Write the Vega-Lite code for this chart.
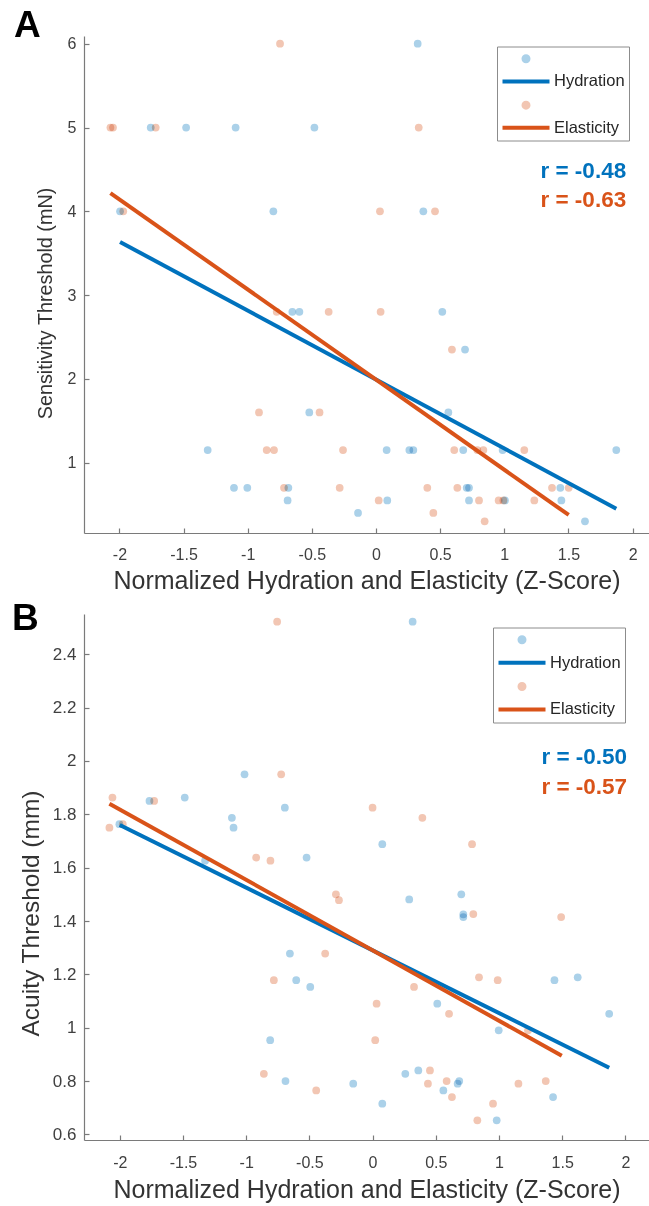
{
  "$schema": "https://vega.github.io/schema/vega-lite/v6.json",
  "padding": {"left": 12, "top": 6, "right": 0, "bottom": 0},
  "autosize": {"type": "pad"},
  "background": "white",
  "config": {
    "font": "Liberation Sans",
    "view": {"stroke": null},
    "axis": {
      "grid": false,
      "domainColor": "#7a7a7a",
      "domainWidth": 1.2,
      "tickColor": "#7a7a7a",
      "tickWidth": 1.2,
      "tickSize": -5,
      "labelColor": "#404040",
      "titleColor": "#333333",
      "labelFont": "Liberation Sans",
      "titleFont": "Liberation Sans",
      "titleFontWeight": "normal"
    }
  },
  "spacing": 81,
  "bounds": "flush",
  "resolve": {"scale": {"color": "independent"}, "legend": {"color": "independent"}},
  "datasets": {
    "ptsA": [
      {"key": "hp", "x": 0.325, "y": 6}, {"key": "hp", "x": -1.756, "y": 5}, {"key": "hp", "x": -1.48, "y": 5}, {"key": "hp", "x": -1.094, "y": 5}, {"key": "hp", "x": -0.48, "y": 5},
      {"key": "hp", "x": -1.995, "y": 4}, {"key": "hp", "x": -0.8, "y": 4}, {"key": "hp", "x": 0.369, "y": 4},
      {"key": "hp", "x": -0.652, "y": 2.8}, {"key": "hp", "x": -0.597, "y": 2.8}, {"key": "hp", "x": 0.517, "y": 2.8}, {"key": "hp", "x": 0.694, "y": 2.35},
      {"key": "hp", "x": -0.52, "y": 1.6}, {"key": "hp", "x": 0.564, "y": 1.6},
      {"key": "hp", "x": -1.312, "y": 1.15}, {"key": "hp", "x": 0.083, "y": 1.15}, {"key": "hp", "x": 0.26, "y": 1.15}, {"key": "hp", "x": 0.291, "y": 1.15}, {"key": "hp", "x": 0.68, "y": 1.15}, {"key": "hp", "x": 0.987, "y": 1.15}, {"key": "hp", "x": 1.873, "y": 1.15},
      {"key": "hp", "x": -1.107, "y": 0.7}, {"key": "hp", "x": -1.003, "y": 0.7}, {"key": "hp", "x": -0.683, "y": 0.7}, {"key": "hp", "x": 0.707, "y": 0.7}, {"key": "hp", "x": 0.725, "y": 0.7}, {"key": "hp", "x": 1.437, "y": 0.7},
      {"key": "hp", "x": -0.689, "y": 0.55}, {"key": "hp", "x": 0.088, "y": 0.55}, {"key": "hp", "x": 0.725, "y": 0.55}, {"key": "hp", "x": 1.005, "y": 0.55}, {"key": "hp", "x": 1.445, "y": 0.55},
      {"key": "hp", "x": -0.14, "y": 0.4}, {"key": "hp", "x": 1.629, "y": 0.3},
      {"key": "ep", "x": -0.748, "y": 6}, {"key": "ep", "x": -2.07, "y": 5}, {"key": "ep", "x": -2.05, "y": 5}, {"key": "ep", "x": -1.717, "y": 5}, {"key": "ep", "x": 0.333, "y": 5},
      {"key": "ep", "x": -1.97, "y": 4}, {"key": "ep", "x": 0.031, "y": 4}, {"key": "ep", "x": 0.46, "y": 4},
      {"key": "ep", "x": -0.774, "y": 2.8}, {"key": "ep", "x": -0.369, "y": 2.8}, {"key": "ep", "x": 0.036, "y": 2.8}, {"key": "ep", "x": 0.592, "y": 2.35},
      {"key": "ep", "x": -0.912, "y": 1.6}, {"key": "ep", "x": -0.44, "y": 1.6},
      {"key": "ep", "x": -0.852, "y": 1.15}, {"key": "ep", "x": -0.795, "y": 1.15}, {"key": "ep", "x": -0.257, "y": 1.15}, {"key": "ep", "x": 0.61, "y": 1.15}, {"key": "ep", "x": 0.79, "y": 1.15}, {"key": "ep", "x": 0.837, "y": 1.15}, {"key": "ep", "x": 1.156, "y": 1.15},
      {"key": "ep", "x": -0.717, "y": 0.7}, {"key": "ep", "x": -0.283, "y": 0.7}, {"key": "ep", "x": 0.4, "y": 0.7}, {"key": "ep", "x": 0.634, "y": 0.7}, {"key": "ep", "x": 1.372, "y": 0.7}, {"key": "ep", "x": 1.502, "y": 0.7},
      {"key": "ep", "x": 0.021, "y": 0.55}, {"key": "ep", "x": 0.803, "y": 0.55}, {"key": "ep", "x": 0.956, "y": 0.55}, {"key": "ep", "x": 0.993, "y": 0.55}, {"key": "ep", "x": 1.234, "y": 0.55},
      {"key": "ep", "x": 0.447, "y": 0.4}, {"key": "ep", "x": 0.847, "y": 0.3}
    ],
    "lineA": [
      {"key": "Hydration", "x": -1.995, "y": 3.634}, {"key": "Hydration", "x": 1.873, "y": 0.451},
      {"key": "Elasticity", "x": -2.07, "y": 4.218}, {"key": "Elasticity", "x": 1.502, "y": 0.376}
    ],
    "ptsB": [
      {"key": "hp", "x": 0.317, "y": 2.522}, {"key": "hp", "x": -1.013, "y": 1.95}, {"key": "hp", "x": -1.765, "y": 1.85}, {"key": "hp", "x": -1.486, "y": 1.863}, {"key": "hp", "x": -0.694, "y": 1.825},
      {"key": "hp", "x": -1.113, "y": 1.787}, {"key": "hp", "x": -1.1, "y": 1.75}, {"key": "hp", "x": -2.003, "y": 1.763}, {"key": "hp", "x": -0.522, "y": 1.638}, {"key": "hp", "x": -1.325, "y": 1.626},
      {"key": "hp", "x": 0.077, "y": 1.688}, {"key": "hp", "x": 0.29, "y": 1.481}, {"key": "hp", "x": 0.702, "y": 1.5}, {"key": "hp", "x": 0.718, "y": 1.425}, {"key": "hp", "x": 0.718, "y": 1.415},
      {"key": "hp", "x": -0.654, "y": 1.278}, {"key": "hp", "x": -0.604, "y": 1.178}, {"key": "hp", "x": -0.493, "y": 1.153}, {"key": "hp", "x": -0.81, "y": 0.953}, {"key": "hp", "x": -0.689, "y": 0.8},
      {"key": "hp", "x": -0.153, "y": 0.79}, {"key": "hp", "x": 1.439, "y": 1.178}, {"key": "hp", "x": 1.623, "y": 1.189}, {"key": "hp", "x": 0.512, "y": 1.09}, {"key": "hp", "x": 1.872, "y": 1.052},
      {"key": "hp", "x": 0.998, "y": 0.99}, {"key": "hp", "x": 0.259, "y": 0.827}, {"key": "hp", "x": 0.362, "y": 0.84}, {"key": "hp", "x": 0.686, "y": 0.8}, {"key": "hp", "x": 0.673, "y": 0.79},
      {"key": "hp", "x": 0.56, "y": 0.765}, {"key": "hp", "x": 1.428, "y": 0.74}, {"key": "hp", "x": 0.077, "y": 0.715}, {"key": "hp", "x": 0.982, "y": 0.653},
      {"key": "ep", "x": -0.755, "y": 2.522}, {"key": "ep", "x": -0.723, "y": 1.95}, {"key": "ep", "x": -2.058, "y": 1.863}, {"key": "ep", "x": -1.728, "y": 1.85}, {"key": "ep", "x": 0.0, "y": 1.825},
      {"key": "ep", "x": -2.082, "y": 1.75}, {"key": "ep", "x": -1.976, "y": 1.763}, {"key": "ep", "x": -0.921, "y": 1.638}, {"key": "ep", "x": -0.808, "y": 1.626}, {"key": "ep", "x": -0.29, "y": 1.5},
      {"key": "ep", "x": -0.266, "y": 1.478}, {"key": "ep", "x": 0.394, "y": 1.787}, {"key": "ep", "x": 0.787, "y": 1.688}, {"key": "ep", "x": -0.375, "y": 1.278}, {"key": "ep", "x": -0.781, "y": 1.178},
      {"key": "ep", "x": -0.86, "y": 0.827}, {"key": "ep", "x": -0.446, "y": 0.765}, {"key": "ep", "x": 0.797, "y": 1.426}, {"key": "ep", "x": 1.492, "y": 1.415}, {"key": "ep", "x": 0.842, "y": 1.189},
      {"key": "ep", "x": 0.99, "y": 1.178}, {"key": "ep", "x": 0.328, "y": 1.153}, {"key": "ep", "x": 0.032, "y": 1.09}, {"key": "ep", "x": 0.605, "y": 1.052}, {"key": "ep", "x": 1.23, "y": 0.99},
      {"key": "ep", "x": 0.021, "y": 0.953}, {"key": "ep", "x": 0.454, "y": 0.84}, {"key": "ep", "x": 0.438, "y": 0.79}, {"key": "ep", "x": 0.586, "y": 0.8}, {"key": "ep", "x": 0.628, "y": 0.74},
      {"key": "ep", "x": 1.154, "y": 0.79}, {"key": "ep", "x": 1.37, "y": 0.8}, {"key": "ep", "x": 0.953, "y": 0.715}, {"key": "ep", "x": 0.829, "y": 0.653}
    ],
    "lineB": [
      {"key": "Hydration", "x": -2.0, "y": 1.76}, {"key": "Hydration", "x": 1.872, "y": 0.85},
      {"key": "Elasticity", "x": -2.082, "y": 1.84}, {"key": "Elasticity", "x": 1.497, "y": 0.895}
    ],
    "rA": [{"key": "Hydration", "label": "r = -0.48"}, {"key": "Elasticity", "label": "r = -0.63"}],
    "rB": [{"key": "Hydration", "label": "r = -0.50"}, {"key": "Elasticity", "label": "r = -0.57"}]
  },
  "vconcat": [
    {
      "width": 565,
      "height": 497,
      "title": {"text": "A", "anchor": "start", "frame": "group", "orient": "top", "offset": 0, "dx": -70, "dy": 38, "baseline": "alphabetic", "fontSize": 37, "fontWeight": "bold", "color": "#000000", "font": "Liberation Sans"},
      "layer": [
        {
          "data": {"name": "ptsA"},
          "mark": {"type": "point", "filled": true, "size": 60, "opacity": 1, "blend": "multiply"},
          "encoding": {
            "x": {"field": "x", "type": "quantitative", "scale": {"domain": [-2.276, 2.128], "nice": false, "zero": false},
              "axis": {"values": [-2, -1.5, -1, -0.5, 0, 0.5, 1, 1.5, 2], "labelExpr": "'' + datum.value", "labelFontSize": 16, "labelPadding": 18, "title": "Normalized Hydration and Elasticity (Z-Score)", "titleFontSize": 25, "titlePadding": 6}},
            "y": {"field": "y", "type": "quantitative", "scale": {"domain": [0.161, 6.092], "nice": false, "zero": false},
              "axis": {"values": [1, 2, 3, 4, 5, 6], "labelExpr": "'' + datum.value", "labelFontSize": 16, "labelPadding": 13, "title": "Sensitivity Threshold (mN)", "titleFontSize": 19.8, "titlePadding": 12, "titleY": 267}},
            "color": {"field": "key", "type": "nominal",
              "scale": {"domain": ["hp", "Hydration", "ep", "Elasticity"], "range": ["#abd1e9", "#0072BD", "#f2c6b3", "#D95319"]},
              "legend": {
                "orient": "none", "legendX": 413, "legendY": 10.5, "title": null,
                "strokeColor": "#8c8c8c", "fillColor": "white", "padding": 4,
                "labelFont": "Liberation Sans", "labelFontSize": 16.5, "labelColor": "#262626",
                "labelExpr": "datum.value == 'hp' || datum.value == 'ep' ? '' : datum.label",
                "symbolType": {"expr": "datum.value == 'hp' || datum.value == 'ep' ? 'circle' : 'M-9.4,0L9.4,0'"},
                "symbolSize": 25, "symbolStrokeWidth": 4, "symbolOpacity": 1,
                "symbolOffset": 16.75, "rowPadding": 3.7, "labelOffset": 19.75
              }}
          }
        },
        {
          "data": {"name": "lineA"},
          "mark": {"type": "line", "strokeWidth": 4},
          "encoding": {
            "x": {"field": "x", "type": "quantitative"},
            "y": {"field": "y", "type": "quantitative"},
            "color": {"field": "key", "type": "nominal"},
            "order": {"field": "x", "type": "quantitative"}
          }
        },
        {
          "data": {"name": "rA"},
          "transform": [{"filter": "datum.key == 'Hydration'"}],
          "mark": {"type": "text", "align": "right", "baseline": "alphabetic", "fontSize": 22.5, "fontWeight": "bold"},
          "encoding": {
            "x": {"datum": 1.95, "type": "quantitative"},
            "y": {"datum": 4.394, "type": "quantitative"},
            "text": {"field": "label"},
            "color": {"field": "key", "type": "nominal", "legend": null}
          }
        },
        {
          "data": {"name": "rA"},
          "transform": [{"filter": "datum.key == 'Elasticity'"}],
          "mark": {"type": "text", "align": "right", "baseline": "alphabetic", "fontSize": 22.5, "fontWeight": "bold"},
          "encoding": {
            "x": {"datum": 1.95, "type": "quantitative"},
            "y": {"datum": 4.05, "type": "quantitative"},
            "text": {"field": "label"},
            "color": {"field": "key", "type": "nominal", "legend": null}
          }
        }
      ]
    },
    {
      "width": 565,
      "height": 526,
      "title": {"text": "B", "anchor": "start", "frame": "group", "orient": "top", "offset": 0, "dx": -72, "dy": 53, "baseline": "alphabetic", "fontSize": 37, "fontWeight": "bold", "color": "#000000", "font": "Liberation Sans"},
      "layer": [
        {
          "data": {"name": "ptsB"},
          "mark": {"type": "point", "filled": true, "size": 60, "opacity": 1, "blend": "multiply"},
          "encoding": {
            "x": {"field": "x", "type": "quantitative", "scale": {"domain": [-2.283, 2.187], "nice": false, "zero": false},
              "axis": {"values": [-2, -1.5, -1, -0.5, 0, 0.5, 1, 1.5, 2], "labelExpr": "'' + datum.value", "labelFontSize": 16, "labelPadding": 19.5, "title": "Normalized Hydration and Elasticity (Z-Score)", "titleFontSize": 25, "titlePadding": 7}},
            "y": {"field": "y", "type": "quantitative", "scale": {"domain": [0.579, 2.551], "nice": false, "zero": false},
              "axis": {"values": [0.6, 0.8, 1, 1.2, 1.4, 1.6, 1.8, 2, 2.2, 2.4], "labelExpr": "'' + datum.value", "labelFontSize": 17, "labelPadding": 13, "title": "Acuity Threshold (mm)", "titleFontSize": 24.5, "titlePadding": 9, "titleY": 299}},
            "color": {"field": "key", "type": "nominal",
              "scale": {"domain": ["hp", "Hydration", "ep", "Elasticity"], "range": ["#abd1e9", "#0072BD", "#f2c6b3", "#D95319"]},
              "legend": {
                "orient": "none", "legendX": 409, "legendY": 13.5, "title": null,
                "strokeColor": "#8c8c8c", "fillColor": "white", "padding": 4,
                "labelFont": "Liberation Sans", "labelFontSize": 16.5, "labelColor": "#262626",
                "labelExpr": "datum.value == 'hp' || datum.value == 'ep' ? '' : datum.label",
                "symbolType": {"expr": "datum.value == 'hp' || datum.value == 'ep' ? 'circle' : 'M-9.4,0L9.4,0'"},
                "symbolSize": 25, "symbolStrokeWidth": 4, "symbolOpacity": 1,
                "symbolOffset": 16.75, "rowPadding": 3.9, "labelOffset": 19.75
              }}
          }
        },
        {
          "data": {"name": "lineB"},
          "mark": {"type": "line", "strokeWidth": 4},
          "encoding": {
            "x": {"field": "x", "type": "quantitative"},
            "y": {"field": "y", "type": "quantitative"},
            "color": {"field": "key", "type": "nominal"},
            "order": {"field": "x", "type": "quantitative"}
          }
        },
        {
          "data": {"name": "rB"},
          "transform": [{"filter": "datum.key == 'Hydration'"}],
          "mark": {"type": "text", "align": "right", "baseline": "alphabetic", "fontSize": 22.5, "fontWeight": "bold"},
          "encoding": {
            "x": {"datum": 2.014, "type": "quantitative"},
            "y": {"datum": 1.988, "type": "quantitative"},
            "text": {"field": "label"},
            "color": {"field": "key", "type": "nominal", "legend": null}
          }
        },
        {
          "data": {"name": "rB"},
          "transform": [{"filter": "datum.key == 'Elasticity'"}],
          "mark": {"type": "text", "align": "right", "baseline": "alphabetic", "fontSize": 22.5, "fontWeight": "bold"},
          "encoding": {
            "x": {"datum": 2.014, "type": "quantitative"},
            "y": {"datum": 1.875, "type": "quantitative"},
            "text": {"field": "label"},
            "color": {"field": "key", "type": "nominal", "legend": null}
          }
        }
      ]
    }
  ]
}
